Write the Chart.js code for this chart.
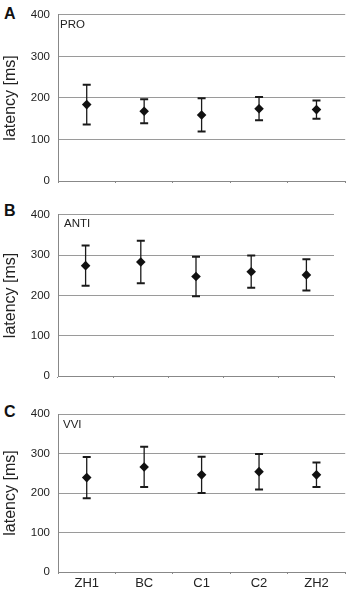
<!DOCTYPE html>
<html lang="en">
<head>
<meta charset="UTF-8" />
<title>Saccade latency</title>
<script src="https://cdn.jsdelivr.net/npm/chart.js@4"></script>
<style>
  body { margin: 0; background: #fff; }
  .wrap { position: relative; width: 350px; height: 591px; overflow: hidden; }
  canvas { position: absolute; left: 0; }
  .letter { position: absolute; left: 4px; font: bold 16px "Liberation Sans", Arial, sans-serif; color: #111; line-height: 16px; }
</style>
</head>
<body>
<div class="wrap">
  <div class="letter" style="top:6px">A</div>
  <canvas id="proChart" width="350" height="200" style="top:0"></canvas>
  <div class="letter" style="top:203px">B</div>
  <canvas id="antiChart" width="350" height="195" style="top:200px"></canvas>
  <div class="letter" style="top:404px">C</div>
  <canvas id="vviChart" width="350" height="196" style="top:395px"></canvas>
</div>

<script>
// groups on the x axis
const groups = ['ZH1', 'BC', 'C1', 'C2', 'ZH2'];

// mean latency and SD (ms) per task
const proMean = [184, 168, 159, 174, 172];
const proSd = [48, 29, 40, 28, 22];

const antiMean = [274, 283, 247, 259, 251];
const antiSd = [50, 53, 49, 40, 39];

const vviMean = [239, 266, 246, 254, 246];
const vviSd = [52, 51, 46, 45, 31];

const yMin = 0, yMax = 400, yStep = 100;

// draws mean +/- sd whiskers under the points
const errorBars = {
  id: 'errorBars',
  beforeDatasetsDraw(chart) {
    const ds = chart.data.datasets[0];
    const x = chart.scales.x, y = chart.scales.y, ctx = chart.ctx;
    ctx.save();
    ctx.strokeStyle = '#1a1a1a';
    ds.data.forEach((v, i) => {
      const px = x.getPixelForValue(i);
      const top = y.getPixelForValue(v + ds.sd[i]);
      const bot = y.getPixelForValue(v - ds.sd[i]);
      ctx.lineWidth = 1.3;
      ctx.beginPath();
      ctx.moveTo(px, top);
      ctx.lineTo(px, bot);
      ctx.stroke();
      ctx.lineWidth = 2;
      ctx.beginPath();
      ctx.moveTo(px - 4, top); ctx.lineTo(px + 4, top);
      ctx.moveTo(px - 4, bot); ctx.lineTo(px + 4, bot);
      ctx.stroke();
    });
    ctx.restore();
  }
};

// task name in the upper left of the plot area
const taskTag = {
  id: 'taskTag',
  afterDraw(chart, args, opts) {
    const ctx = chart.ctx, a = chart.chartArea;
    ctx.save();
    ctx.fillStyle = '#222';
    ctx.font = '11.5px "Liberation Sans", Arial, sans-serif';
    ctx.textBaseline = 'middle';
    ctx.fillText(opts.text, a.left + opts.dx, a.top + opts.dy);
    ctx.restore();
  }
};

function makePanel(id, task, mean, sd, showLabels, pad, tagPos) {
  new Chart(document.getElementById(id), {
    type: 'line',
    data: {
      labels: groups,
      datasets: [{
        data: mean,
        sd: sd,
        showLine: false,
        pointStyle: 'rectRot',
        pointRadius: 4.8,
        pointBackgroundColor: '#111',
        pointBorderColor: '#111',
        pointBorderWidth: 0
      }]
    },
    options: {
      responsive: false,
      animation: false,
      layout: { padding: pad },
      plugins: {
        legend: { display: false },
        tooltip: { enabled: false },
        taskTag: { text: task, dx: tagPos[0], dy: tagPos[1] }
      },
      scales: {
        x: {
          offset: true,
          grid: { offset: true, drawOnChartArea: false, tickLength: 2, color: '#888' },
          border: { color: '#888' },
          ticks: {
            display: showLabels,
            padding: 2,
            color: '#222',
            font: { family: '"Liberation Sans", Arial, sans-serif', size: 13 }
          },
          afterFit: (s) => { s.height = 19; }
        },
        y: {
          min: yMin,
          max: yMax,
          ticks: {
            stepSize: yStep,
            padding: 8,
            color: '#222',
            font: { family: '"Liberation Sans", Arial, sans-serif', size: 11.5 }
          },
          grid: { drawTicks: false, color: '#9a9a9a' },
          border: { color: '#888' },
          title: {
            display: true,
            text: 'latency [ms]',
            color: '#222',
            padding: { top: 1, bottom: 0 },
            font: { family: '"Liberation Sans", Arial, sans-serif', size: 16 }
          },
          afterFit: (s) => { s.width = 58; }
        }
      }
    },
    plugins: [errorBars, taskTag]
  });
}

makePanel('proChart', 'PRO', proMean, proSd, false, { top: 8, right: -1 }, [2, 10]);
makePanel('antiChart', 'ANTI', antiMean, antiSd, false, { top: 14, right: 16 }, [6, 9]);
makePanel('vviChart', 'VVI', vviMean, vviSd, true, { top: 19, right: -1 }, [5, 11]);
</script>
</body>
</html>
